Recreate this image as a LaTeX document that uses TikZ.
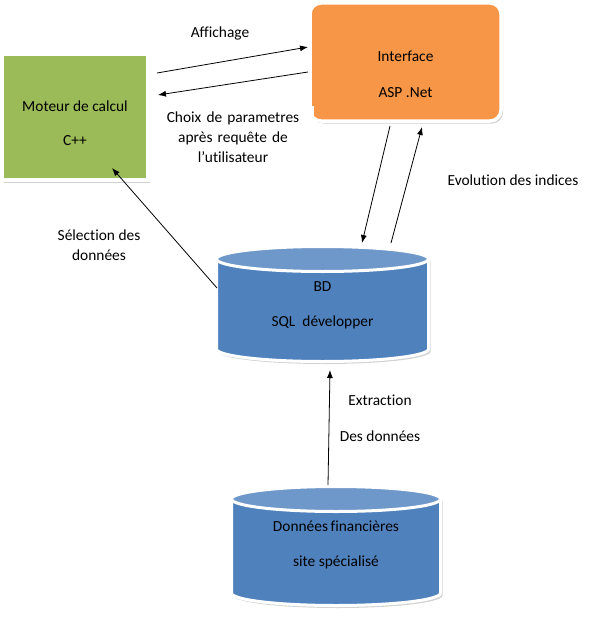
\documentclass[tikz,border=0pt]{standalone}
\usepackage{fontspec}
\setmainfont{Carlito}[Ligatures=NoCommon]
\usetikzlibrary{shadows,arrows.meta}

\definecolor{calcgreen}{HTML}{9BBB59}
\definecolor{ifaceorange}{HTML}{F79646}
\definecolor{dbblue}{HTML}{4F81BD}
\definecolor{dbtop}{HTML}{6F98CA}

\tikzset{
  boxshadow/.style={drop shadow={shadow xshift=2pt,shadow yshift=-2.5pt,fill=black!35,opacity=.5}},
  calcbox/.style={draw=white,line width=3.5pt,fill=calcgreen,minimum width=146pt,minimum height=126pt,boxshadow},
  ifacebox/.style={draw=white,line width=3.5pt,fill=ifaceorange,rounded corners=11pt,minimum width=191pt,minimum height=118pt,boxshadow},
  dbspot/.style={inner sep=0pt,outer sep=0pt},
  dbbody/.style={draw=white,line width=3pt,fill=dbblue,boxshadow},
  dbend/.style={draw=white,line width=3pt,fill=dbtop},
  lbl/.style={align=center,inner sep=0pt},
  flow/.style={-{Latex[length=8pt,width=6pt]},line width=.8pt},
}

\begin{document}
\begin{tikzpicture}[x=1pt,y=-1pt,every node/.style={font=\fontsize{15.4}{20}\selectfont}]
\useasboundingbox (0,0) rectangle (589,634);

% boites
\node[calcbox] (calc) at (75,117) {};
\node[lbl] (calctxt) at (75,123) {Moteur de calcul\\[14pt]C++};

\node[ifacebox] (iface) at (405.5,62) {};
\node[lbl] (ifacetxt) at (405.5,74) {Interface\\[16pt]ASP .Net};

% cylindres
\node[dbspot,minimum width=212pt,minimum height=115pt] (db) at (322.5,304) {};
\path[dbbody] ([shift={(0,-45)}]db.west) -- ([shift={(0,45)}]db.west) arc (180:0:106 and 12.5)
  -- ([shift={(0,-45)}]db.east) arc (0:-180:106 and 12.5) -- cycle;
\path[dbend] ([shift={(0,-45)}]db.center) ellipse (106 and 12.5);
\node[lbl] (dbtxt) at (322.5,305.5) {BD\\[15pt]SQL~ développer};

\node[dbspot,minimum width=209pt,minimum height=119pt] (src) at (336,546) {};
\path[dbbody] ([shift={(0,-47)}]src.west) -- ([shift={(0,47)}]src.west) arc (180:0:104.5 and 12.5)
  -- ([shift={(0,-47)}]src.east) arc (0:-180:104.5 and 12.5) -- cycle;
\path[dbend] ([shift={(0,-47)}]src.center) ellipse (104.5 and 12.5);
\node[lbl] (srctxt) at (336,544.5) {Données\,financières\\[15pt]site spécialisé};

% etiquettes
\node[lbl] (affich) at (220,33) {Affichage};
\node[align=center,fill=white,text width=155pt,inner xsep=3pt,inner ysep=6pt] (choix) at (233,137) {Choix de parametres\\après requête de\\l'utilisateur};
\node[lbl] (evol) at (513,180) {Evolution des indices};
\node[lbl] (select) at (99,245) {Sélection des\\données};
\node[lbl] (extract) at (380,418) {Extraction\\[16pt]Des données};

% fleches
\draw[flow] ([shift={(82,-44)}]calc.center) -- ([shift={(-97.5,-15)}]iface.center);
\draw[flow] ([shift={(-97.5,10)}]iface.center) -- ([shift={(83,-22)}]calc.center);
\draw[flow] ([shift={(-15.5,64)}]iface.center) -- ([shift={(39.5,-61)}]db.center);
\draw[flow] ([shift={(68.5,-61)}]db.center) -- ([shift={(16.5,65)}]iface.center);
\draw[flow] ([shift={(-105.5,-16)}]db.center) -- ([shift={(37,51)}]calc.center);
\draw[flow] ([shift={(-8,-61)}]src.center) -- ([shift={(7.5,66)}]db.center);

\end{tikzpicture}
\end{document}
